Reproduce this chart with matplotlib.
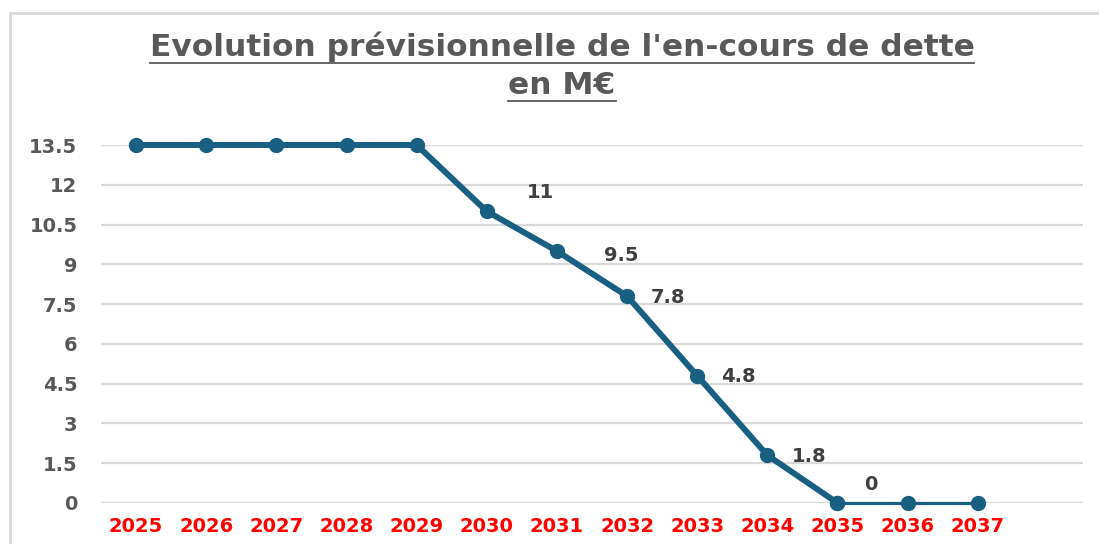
import matplotlib
matplotlib.use("Agg")
import matplotlib.pyplot as plt
from matplotlib.lines import Line2D

years = ["2025", "2026", "2027", "2028", "2029", "2030", "2031", "2032",
         "2033", "2034", "2035", "2036", "2037"]
debt = [13.5, 13.5, 13.5, 13.5, 13.5, 11, 9.5, 7.8, 4.8, 1.8, 0, 0, 0]
yticks = [0, 1.5, 3, 4.5, 6, 7.5, 9, 10.5, 12, 13.5]
ytick_labels = ["0", "1.5", "3", "4.5", "6", "7.5", "9", "10.5", "12", "13.5"]
labelled = [5, 6, 7, 8, 9, 10]
label_texts = ["11", "9.5", "7.8", "4.8", "1.8", "0"]
# label offsets in pixels (dx, dy up)
label_offsets = [(54, 19), (64, -4), (41, -1), (41, -1), (42, -1), (33, 18)]
title_lines = ["Evolution prévisionnelle de l'en-cours de dette", "en M€"]

W, H = 1099, 544
fig = plt.figure(figsize=(W / 100, H / 100), dpi=100)
ax = fig.add_axes([101 / W, 1 - 503 / H, (1083 - 101) / W, (503 - 145) / H])

line_color = "#185f82"
x = list(range(len(years)))
ax.plot(x[:11], debt[:11], color=line_color, lw=4.3, marker="o", ms=10,
        solid_capstyle="round", zorder=3, clip_on=False)
ax.plot(x[10:], debt[10:], color=line_color, lw=2.3, marker="o", ms=10,
        zorder=3, clip_on=False)

ax.set_xlim(-0.5, 13.5)
ax.set_ylim(0, 13.5)
ax.set_yticks(yticks)
ax.set_yticklabels(ytick_labels)
ax.set_xticks(x)
ax.set_xticklabels(years)
ax.grid(axis="y", color="#d9d9d9", lw=1.6, zorder=0)
ax.set_axisbelow(True)
for s in ax.spines.values():
    s.set_visible(False)
ax.tick_params(axis="both", length=0)
ax.tick_params(axis="y", pad=17, labelsize=14, labelcolor="#595959")
ax.tick_params(axis="x", pad=10, labelsize=14, labelcolor="#ff0000")
for t in ax.get_yticklabels() + ax.get_xticklabels():
    t.set_fontfamily("DejaVu Sans")
    t.set_fontweight("bold")

for i, txt, (dx, dy) in zip(labelled, label_texts, label_offsets):
    ax.annotate(txt, (x[i], debt[i]), xytext=(dx * 0.72, dy * 0.72),
                textcoords="offset points", ha="center", va="center",
                fontsize=14, fontweight="bold", color="#404040",
                family="DejaVu Sans", zorder=4, annotation_clip=False)

# title with underline
title_color = "#595959"
t1 = fig.text(562 / W, 1 - 47 / H, title_lines[0], ha="center", va="center",
              fontsize=22.5, color=title_color, family="DejaVu Sans",
              fontweight="semibold")
t2 = fig.text(562 / W, 1 - 86 / H, title_lines[1], ha="center", va="center",
              fontsize=22.5, color=title_color, family="DejaVu Sans",
              fontweight="semibold")
fig.canvas.draw()
r = fig.canvas.get_renderer()
for t, uy in ((t1, 63), (t2, 101)):
    bb = t.get_window_extent(r)
    fig.add_artist(Line2D([bb.x0 / W, bb.x1 / W], [1 - uy / H, 1 - uy / H],
                          transform=fig.transFigure, color=title_color, lw=1.3))

# chart area border (top and left visible)
bc = "#d9d9d9"
fig.add_artist(Line2D([10 / W, 1], [1 - 13 / H, 1 - 13 / H],
                      transform=fig.transFigure, color=bc, lw=2))
fig.add_artist(Line2D([10 / W, 10 / W], [0, 1 - 13 / H],
                      transform=fig.transFigure, color=bc, lw=2))

fig.savefig("out.png", dpi=100, facecolor="white")
